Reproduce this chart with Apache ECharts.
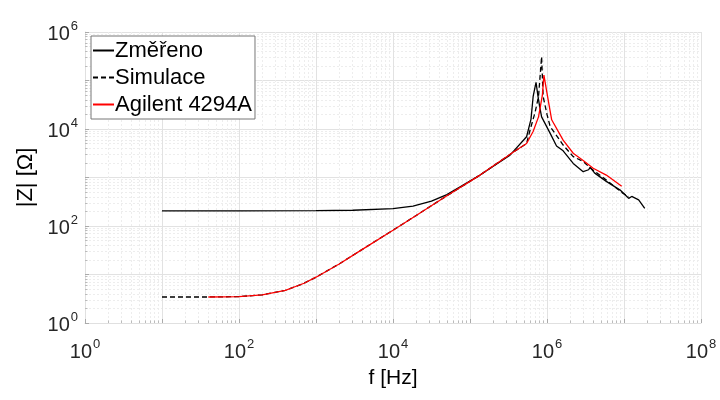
<!DOCTYPE html>
<html>
<head>
<meta charset="utf-8">
<script src="https://cdn.jsdelivr.net/npm/echarts@6/dist/echarts.min.js"></script>
<style>html,body{margin:0;padding:0;background:#fff}#c{width:720px;height:400px}</style>
</head>
<body>
<div id="c"></div>
<script>
// Změřeno (measured)
const measFreq = [10, 30, 100, 1000, 3000, 10000, 18200, 31600, 50100, 79400, 135000, 331000, 543000, 620000, 661000, 720000, 760000, 800000, 851000, 1100000, 1330000, 1620000, 2190000, 2950000, 3470000, 3630000, 4170000, 5890000, 8910000, 11500000, 12600000, 15500000, 18600000];
const measZ    = [205, 205, 206, 208, 211, 228, 257, 325, 445, 680, 1122, 2884, 6918, 16000, 46800, 92000, 50000, 30000, 17800, 8128, 4467, 3548, 1950, 1318, 1445, 1622, 1230, 832, 550, 372, 407, 347, 232];
// Simulace
const simFreq = [10, 40, 100, 200, 400, 700, 1000, 2000, 4000, 10000, 20000, 50100, 135000, 363000, 543000, 603000, 700000, 776000, 851000, 891000, 1000000, 1100000, 1620000, 2190000, 2950000, 3630000, 5890000, 9770000, 11500000];
const simZ    = [3.44, 3.44, 3.5, 3.8, 4.7, 6.6, 8.8, 16.5, 33, 82, 165, 420, 1122, 3311, 5012, 9550, 22000, 46800, 309000, 46800, 20000, 11200, 4677, 2692, 2138, 1585, 891, 468, 407];
// Agilent 4294A
const agFreq = [40, 100, 200, 400, 700, 1000, 2000, 4000, 10000, 20000, 50100, 135000, 363000, 543000, 660000, 776000, 871000, 912000, 960000, 1000000, 1150000, 1620000, 2190000, 2950000, 3980000, 5890000, 9330000];
const agZ    = [3.44, 3.5, 3.8, 4.7, 6.6, 8.8, 16.5, 33, 82, 165, 420, 1122, 3311, 5012, 8900, 17800, 50000, 129000, 80000, 55000, 15500, 5890, 3162, 2239, 1549, 1122, 661];

const names = ['Změřeno', 'Simulace', 'Agilent 4294A'];
const xTickExp = [0, 2, 4, 6, 8];
const yTickExp = [0, 2, 4, 6];

const pairs = (f, z) => f.map((v, i) => [v, z[i]]);
const FONT = 'Liberation Sans, Arial, sans-serif';
const fmt = list => v => {
  const e = Math.round(Math.log10(v));
  return list.indexOf(e) >= 0 ? '{b|10}{s|' + e + '}' : '';
};
const rich = {
  b: {fontSize: 20, fontFamily: FONT, color: '#262626', lineHeight: 24, verticalAlign: 'bottom'},
  s: {fontSize: 13, fontFamily: FONT, color: '#262626', lineHeight: 24, verticalAlign: 'top', padding: [0, 0, 0, 1]}
};
const majorLine = {show: true, lineStyle: {color: '#e2e2e2', width: 1, type: 'solid'}};
const minorLine = {show: true, lineStyle: {color: '#ededed', width: 1, type: [2, 2]}};

const chart = echarts.init(document.getElementById('c'), null, {renderer: 'canvas'});
chart.setOption({
  animation: false,
  backgroundColor: '#fff',
  grid: {left: 85, right: 19, top: 32, bottom: 77, containLabel: false},
  legend: {
    orient: 'vertical', left: 91, top: 36,
    backgroundColor: '#fff', borderColor: '#777', borderWidth: 1,
    padding: [3, 3, 3, 1], itemWidth: 21, itemHeight: 12, itemGap: 4,
    itemStyle: {opacity: 0},
    textStyle: {fontSize: 22, fontFamily: FONT, color: '#000', lineHeight: 23, padding: [0, 0, 0, -4]},
    data: names
  },
  xAxis: {
    type: 'log', logBase: 10, min: 1, max: 1e8, interval: 1,
    name: 'f [Hz]', nameLocation: 'middle', nameGap: 45,
    nameTextStyle: {fontSize: 21, fontFamily: FONT, color: '#000'},
    axisLine: {show: true, lineStyle: {color: '#e0e0e0'}},
    axisTick: {show: true, inside: true, length: 4, lineStyle: {color: '#aaa'}},
    minorTick: {show: true, splitNumber: 9, length: 2.5, lineStyle: {color: '#bbb'}},
    splitLine: majorLine, minorSplitLine: minorLine,
    axisLabel: {formatter: fmt(xTickExp), rich: rich, margin: 15}
  },
  yAxis: {
    type: 'log', logBase: 10, min: 1, max: 1e6, interval: 1,
    name: '|Z| [Ω]', nameLocation: 'middle', nameGap: 45, nameRotate: 90,
    nameTextStyle: {fontSize: 22, fontFamily: FONT, color: '#000'},
    axisLine: {show: true, lineStyle: {color: '#e0e0e0'}},
    axisTick: {show: true, inside: true, length: 4, lineStyle: {color: '#aaa'}},
    minorTick: {show: true, splitNumber: 9, length: 2.5, lineStyle: {color: '#bbb'}},
    splitLine: majorLine, minorSplitLine: minorLine,
    axisLabel: {formatter: fmt(yTickExp), rich: rich, margin: 7}
  },
  series: [
    {name: names[0], type: 'line', data: pairs(measFreq, measZ), showSymbol: false, symbol: 'none',
     lineStyle: {color: '#000', width: 1.3}, itemStyle: {color: '#000'}, z: 2},
    {name: names[1], type: 'line', data: pairs(simFreq, simZ), showSymbol: false, symbol: 'none',
     lineStyle: {color: '#000', width: 1.3, type: [5, 3]}, itemStyle: {color: '#000'}, z: 3},
    {name: names[2], type: 'line', data: pairs(agFreq, agZ), showSymbol: false, symbol: 'none',
     lineStyle: {color: '#ff0000', width: 1.3}, itemStyle: {color: '#ff0000'}, z: 4}
  ]
});
</script>
</body>
</html>
